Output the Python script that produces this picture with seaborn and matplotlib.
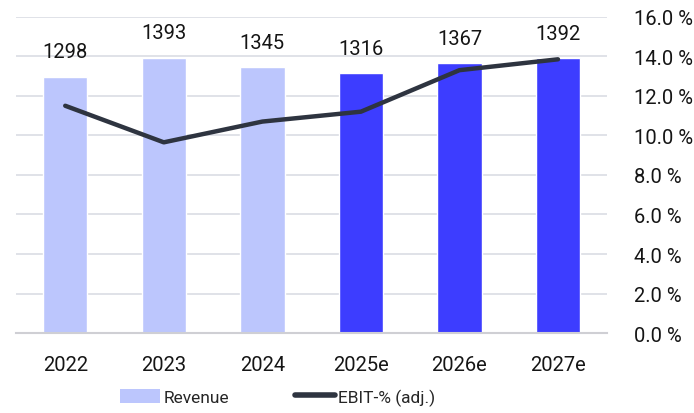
import matplotlib
matplotlib.use("Agg")
import matplotlib.pyplot as plt
import seaborn as sns
import pandas as pd
from matplotlib.patches import Patch
from matplotlib.lines import Line2D
from matplotlib.ticker import FuncFormatter

years = ["2022", "2023", "2024", "2025e", "2026e", "2027e"]
revenue = [1298, 1393, 1345, 1316, 1367, 1392]
ebit_pct = [11.5, 9.65, 10.7, 11.2, 13.3, 13.85]
kind = ["actual", "actual", "actual", "estimate", "estimate", "estimate"]

light = "#BCC6FD"
blue = "#3D3DFF"
dark = "#2E3440"
grid_col = "#DADDE4"
fs = 14.5

sns.set_style("white")
plt.rcParams["font.family"] = ["Roboto", "DejaVu Sans"]

df = pd.DataFrame({"year": years, "revenue": revenue, "ebit": ebit_pct, "kind": kind})

fig = plt.figure(figsize=(6.94, 4.14), dpi=100)
ax = fig.add_axes([0.023, 0.193, 0.852, 0.764])

sns.barplot(data=df, x="year", y="revenue", hue="kind",
            palette={"actual": light, "estimate": blue},
            dodge=False, width=0.45, legend=False, ax=ax, saturation=1)
for cont in ax.containers:
    ax.bar_label(cont, fmt="%d", padding=11, fontsize=fs, color="#151515")

ax.set_ylim(0, 1600)
ax.set_yticks(range(0, 1601, 200))
ax.set_yticklabels([])
ax.tick_params(axis="y", length=0)
ax.grid(axis="y", color=grid_col, linewidth=1.2)
ax.set_axisbelow(True)
ax.set_xlim(-0.5, 5.5)
ax.set_xlabel("")
ax.set_ylabel("")
ax.tick_params(axis="x", length=0, labelsize=fs, pad=16, colors="#151515")
for s in ["top", "left", "right"]:
    ax.spines[s].set_visible(False)
ax.spines["bottom"].set_color("#CFCFD4")
ax.spines["bottom"].set_linewidth(1.5)

ax2 = ax.twinx()
sns.lineplot(data=df, x="year", y="ebit", color=dark, linewidth=3.2, ax=ax2,
             solid_capstyle="round", sort=False)
ax2.set_ylim(0, 16)
ax2.set_yticks(range(0, 17, 2))
ax2.yaxis.set_major_formatter(FuncFormatter(lambda v, p: f"{v:.1f} %"))
ax2.tick_params(axis="y", length=0, labelsize=fs, pad=19, colors="#151515")
ax2.set_ylabel("")
for s in ["top", "left", "right", "bottom"]:
    ax2.spines[s].set_visible(False)

handles = [Patch(facecolor=light, edgecolor="none"),
           Line2D([0], [0], color=dark, linewidth=4, solid_capstyle="round")]
fig.legend(handles, ["Revenue", "EBIT-% (adj.)"], loc="lower center",
           bbox_to_anchor=(0.4, -0.02), ncol=2, frameon=False, fontsize=12.5,
           handlelength=2.3, handleheight=0.9, handletextpad=0.2, columnspacing=3.8)

fig.savefig("out.png", dpi=100)
